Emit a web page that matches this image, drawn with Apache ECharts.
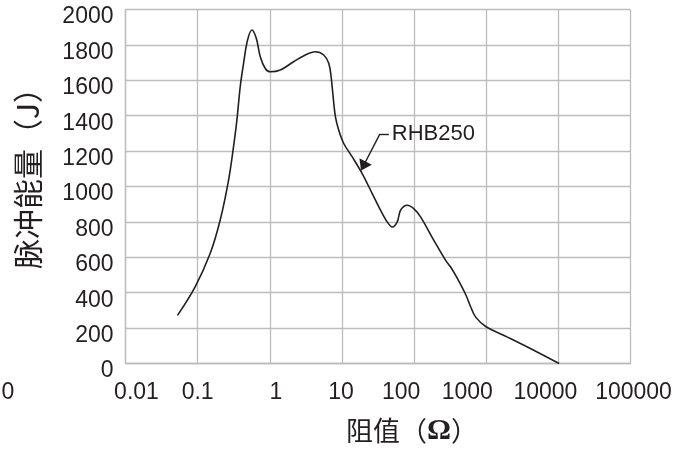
<!DOCTYPE html>
<html>
<head>
<meta charset="utf-8">
<script src="https://cdn.jsdelivr.net/npm/echarts@6/dist/echarts.min.js"></script>
<style>
html,body{margin:0;padding:0;background:#fff;}
#main{width:689px;height:452px;}
</style>
</head>
<body>
<div id="main"></div>
<script>
// ---- data ----
const resistance = [0.0525, 0.092, 0.149, 0.205, 0.268, 0.314, 0.35, 0.389, 0.433, 0.492, 0.566, 0.65, 0.738, 0.866, 1.016, 1.4, 2.14, 3.11, 4.28, 5.59, 6.56, 7.08, 7.55, 8.13, 9.04, 10.6, 13.9, 19.1, 26.3, 34.3, 42.4, 49.8, 58.4, 65, 80.5, 99, 123, 188, 274, 321, 377, 519, 610, 715, 985, 1967, 4150, 10260];
const energy = [272, 432, 621, 809, 1035, 1224, 1375, 1563, 1696, 1828, 1884, 1837, 1733, 1667, 1648, 1658, 1705, 1743, 1761, 1743, 1696, 1620, 1507, 1394, 1318, 1243, 1167, 1073, 960, 866, 800, 771, 800, 866, 894, 875, 828, 696, 583, 545, 498, 390, 319, 262, 209, 149, 83, 0];
const xTickLabels = ['0.01', '0.1', '1', '10', '100', '1000', '10000', '100000'];
const yTickValues = [0, 200, 400, 600, 800, 1000, 1200, 1400, 1600, 1800, 2000];
const seriesName = 'RHB250';
const xAxisTitle = '阻值（Ω）';
const yAxisTitle = '脉冲能量（J）';
const strayLabel = '0';
// annotation anchor points (resistance, energy)
const annElbow = [33.5, 1296];
const annTip = [19.8, 1116];
const annEnd = [44.7, 1296];

// ---- chart ----
const textColor = '#231f20';
const gridColor = '#bdbdbd';
const latin = 'Liberation Sans, Arial, sans-serif';
const xShift = [11, 0, 6, -1, -13, -19, -13, 3];
const xRich = {};
xShift.forEach((s, i) => {
  xRich['t' + i] = {
    fontSize: 23, fontFamily: latin, color: textColor,
    padding: s >= 0 ? [0, 0, 0, 2 * s] : [0, -2 * s, 0, 0]
  };
});

const chart = echarts.init(document.getElementById('main'), null, {renderer: 'canvas'});
chart.setOption({
  animation: false,
  backgroundColor: '#ffffff',
  grid: {left: 125.5, right: 58.5, top: 9.5, bottom: 88.5, containLabel: false, outerBoundsMode: 'none'},
  xAxis: {
    type: 'log', logBase: 10, min: 0.01, max: 100000, splitNumber: 7,
    axisLine: {show: true, lineStyle: {color: gridColor, width: 1.3}},
    axisTick: {show: false},
    minorTick: {show: false},
    splitLine: {show: true, lineStyle: {color: gridColor, width: 1.3}},
    axisLabel: {
      margin: 18,
      formatter: function (v) {
        const i = Math.round(Math.log10(v)) + 2;
        return '{t' + i + '|' + xTickLabels[i] + '}';
      },
      rich: xRich
    }
  },
  yAxis: {
    type: 'value', min: yTickValues[0], max: yTickValues[yTickValues.length - 1], interval: 200,
    axisLine: {show: true, lineStyle: {color: gridColor, width: 1.3}},
    axisTick: {show: false},
    splitLine: {show: true, lineStyle: {color: gridColor, width: 1.3}},
    axisLabel: {
      margin: 12,
      formatter: function (v) { return '{y|' + String(v) + '}'; },
      rich: {y: {fontSize: 23, fontFamily: latin, color: textColor, padding: [15, 0, 0, 0]}}
    }
  },
  series: [{
    name: seriesName,
    type: 'line',
    data: resistance.map((r, i) => [r, energy[i]]),
    smooth: 0.35,
    showSymbol: false,
    symbol: 'none',
    lineStyle: {color: textColor, width: 1.6},
    markLine: {
      silent: true,
      symbol: ['none', 'none'],
      lineStyle: {color: textColor, width: 1.4, type: 'solid'},
      label: {show: false},
      emphasis: {disabled: true},
      data: [
        [{coord: annElbow, symbol: 'none'}, {coord: annTip, symbol: 'triangle', symbolSize: [14, 10]}],
        [{coord: annElbow, symbol: 'none', label: {show: true, position: 'end', distance: 3, formatter: seriesName, fontSize: 22, fontFamily: latin, color: textColor}},
         {coord: annEnd, symbol: 'none'}]
      ]
    }
  }],
  graphic: [
    {type: 'text', x: 28, y: 171, rotation: Math.PI / 2,
     style: {text: yAxisTitle, font: '30px "Noto Sans CJK SC"', fill: textColor, align: 'center', verticalAlign: 'middle'}},
    {type: 'text', x: 412, y: 431,
     style: {text: '阻值（{o|Ω}）', font: '27px "Noto Sans CJK SC"', fill: textColor, align: 'center', verticalAlign: 'middle',
       rich: {o: {fontFamily: 'Liberation Serif', fontWeight: 'bold', fontSize: 30, fill: textColor}}}},
    {type: 'text', x: 8, y: 393,
     style: {text: strayLabel, font: '23px "Liberation Sans"', fill: textColor, align: 'center', verticalAlign: 'middle'}}
  ]
});
</script>
</body>
</html>
